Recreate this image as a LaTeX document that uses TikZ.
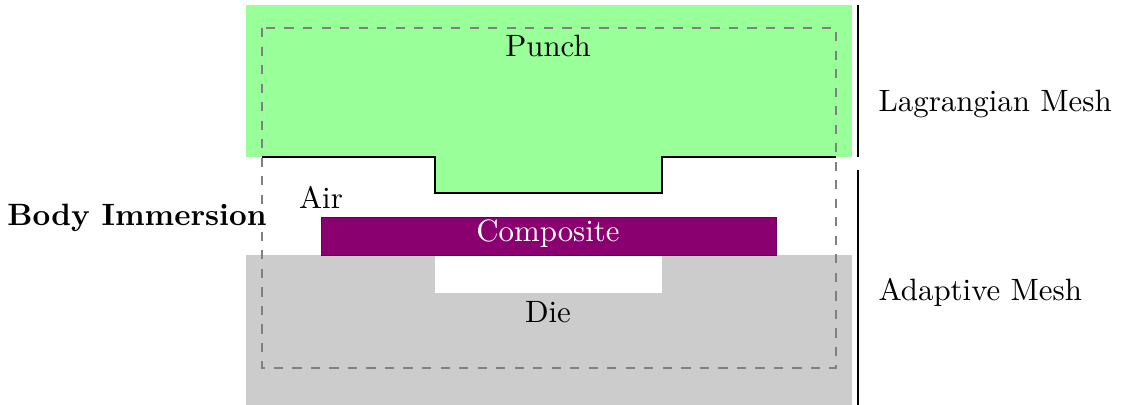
\documentclass[tikz,border=0pt]{standalone}
\usetikzlibrary{positioning}
\usepackage{xcolor}
\definecolor{compviolet}{RGB}{139,0,112}

\begin{document}
\begin{tikzpicture}[
  x=0.324pt, y=-0.324pt,
  region/.style={fill=#1, draw=none},
  outline/.style={line width=0.8pt, black},
  immersion/.style={gray, line width=0.7pt, dashed},
  lbl/.style={inner sep=0pt, font=\normalsize},
]
\useasboundingbox (0,0) rectangle (1121,405);

% Regions
\fill[region=green!40] (246,5) rectangle (852,157);
\fill[region=green!40] (435,157) rectangle (662,193);
\fill[region=gray!40] (246,255) rectangle (852,405);
\fill[region=white] (435,255) rectangle (662,293);
\filldraw[fill=compviolet, draw=violet!80!black, line width=0.3pt] (321,217) rectangle (776,255);

% Punch edge
\draw[outline] (262,157) -- (435,157) -- (435,193) -- (662,193) -- (662,157) -- (836,157);

% Immersion domain
\draw[immersion] (262,28) rectangle (836,368);

% Mesh brackets
\coordinate (lagtop) at (858,5);
\coordinate (lagbot) at (858,157);
\coordinate (adatop) at (858,170);
\coordinate (adabot) at (858,405);
\draw[outline] (lagtop) -- (lagbot);
\draw[outline] (adatop) -- (adabot);

% Labels
\node[lbl] (punch) at (548,46) {Punch};
\node[lbl] (air) at (321,197) {Air};
\node[lbl, text=white] (comp) at (548,234) {Composite};
\node[lbl] (die) at (548,312) {Die};
\node[lbl, font=\normalsize\bfseries] (body) at (137,218) {Body Immersion};
\node[lbl, anchor=west] (lag) at (878,104) {Lagrangian Mesh};
\node[lbl, anchor=west] (ada) at (878,292) {Adaptive Mesh};

\end{tikzpicture}
\end{document}
